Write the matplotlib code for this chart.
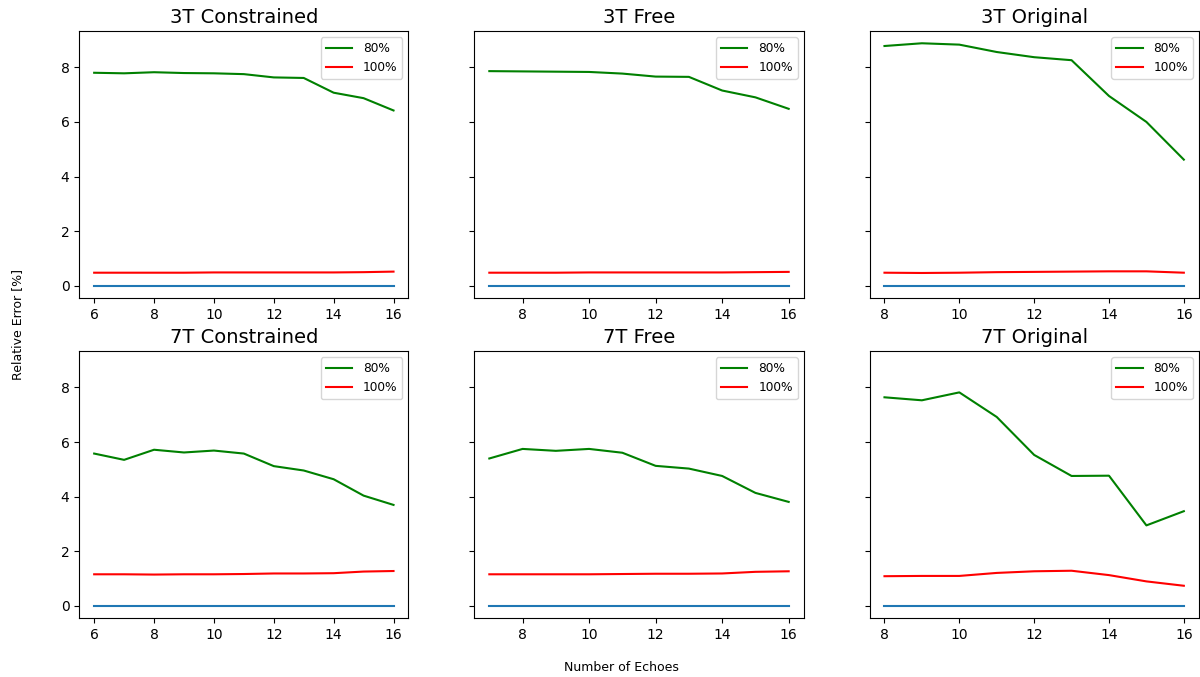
import matplotlib
matplotlib.use("Agg")
import matplotlib.pyplot as plt
import numpy as np

titles = ["3T Constrained", "3T Free", "3T Original",
          "7T Constrained", "7T Free", "7T Original"]

echoes_constrained = list(range(6, 17))
echoes_free = list(range(7, 17))
echoes_original = list(range(8, 17))

g_3t_con = [7.80, 7.78, 7.82, 7.79, 7.78, 7.75, 7.63, 7.61, 7.07, 6.87, 6.42]
r_3t_con = [0.48, 0.48, 0.48, 0.48, 0.49, 0.49, 0.49, 0.49, 0.49, 0.50, 0.52]
g_3t_free = [7.86, 7.85, 7.84, 7.83, 7.77, 7.66, 7.65, 7.15, 6.90, 6.48]
r_3t_free = [0.48, 0.48, 0.48, 0.49, 0.49, 0.49, 0.49, 0.49, 0.50, 0.51]
g_3t_orig = [8.78, 8.88, 8.83, 8.56, 8.37, 8.26, 6.95, 6.00, 4.62]
r_3t_orig = [0.48, 0.47, 0.48, 0.50, 0.51, 0.52, 0.53, 0.53, 0.48]

g_7t_con = [5.58, 5.35, 5.72, 5.62, 5.69, 5.58, 5.12, 4.96, 4.64, 4.04, 3.70]
r_7t_con = [1.16, 1.16, 1.15, 1.16, 1.16, 1.17, 1.19, 1.19, 1.20, 1.26, 1.28]
g_7t_free = [5.40, 5.75, 5.68, 5.75, 5.61, 5.13, 5.03, 4.76, 4.14, 3.81]
r_7t_free = [1.16, 1.16, 1.16, 1.16, 1.17, 1.18, 1.18, 1.19, 1.25, 1.27]
g_7t_orig = [7.64, 7.53, 7.82, 6.92, 5.53, 4.76, 4.77, 2.95, 3.47]
r_7t_orig = [1.09, 1.10, 1.10, 1.21, 1.27, 1.29, 1.13, 0.90, 0.74]

xs = [echoes_constrained, echoes_free, echoes_original] * 2
greens = [g_3t_con, g_3t_free, g_3t_orig, g_7t_con, g_7t_free, g_7t_orig]
reds = [r_3t_con, r_3t_free, r_3t_orig, r_7t_con, r_7t_free, r_7t_orig]

fig, axes = plt.subplots(2, 3, figsize=(12, 6.77), dpi=100, sharey=True)
fig.subplots_adjust(left=0.066, right=0.999, top=0.954, bottom=0.087,
                    wspace=0.2, hspace=0.2)

for ax, t, x, g, r in zip(axes.flat, titles, xs, greens, reds):
    ax.plot(x, np.zeros(len(x)), color="C0")
    ax.plot(x, g, color="g", label="80%")
    ax.plot(x, r, color="r", label="100%")
    ax.set_title(t, fontsize=14)
    ax.legend(loc="upper right", fontsize=8.7, handlelength=2.2, handletextpad=0.9)
    ax.tick_params(labelsize=10)

fig.text(0.015, 0.52, "Relative Error [%]", rotation=90, ha="center", va="center", fontsize=9)
fig.text(0.518, 0.014, "Number of Echoes", ha="center", va="center", fontsize=9)

fig.savefig("out.png", dpi=100)
